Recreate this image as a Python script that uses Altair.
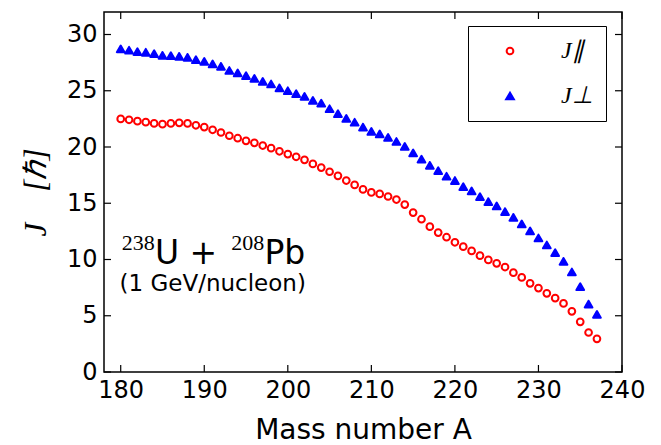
import altair as alt
import pandas as pd

# ---- data ----
mass_A = list(range(180, 238))
j_par = [22.5, 22.42, 22.3, 22.21, 22.1, 22.03, 22.1, 22.15, 22.1, 21.93,
         21.77, 21.53, 21.29, 21.0, 20.78, 20.55, 20.37, 20.13, 19.9, 19.62,
         19.37, 19.13, 18.86, 18.5, 18.17, 17.8, 17.44, 17.02, 16.63, 16.23,
         15.96, 15.83, 15.6, 15.33, 14.88, 14.17, 13.58, 12.92, 12.39, 11.98,
         11.53, 11.14, 10.76, 10.34, 9.96, 9.66, 9.33, 8.83, 8.41, 7.88,
         7.46, 6.99, 6.57, 6.1, 5.39, 4.46, 3.51, 2.95]
j_perp = [28.72, 28.6, 28.48, 28.42, 28.3, 28.15, 28.12, 28.06, 27.97, 27.76,
          27.61, 27.38, 27.17, 26.8, 26.58, 26.34, 26.1, 25.83, 25.6, 25.26,
          25.0, 24.74, 24.5, 24.14, 23.9, 23.4, 22.96, 22.54, 22.2, 21.77,
          21.38, 21.16, 20.85, 20.49, 20.05, 19.48, 18.92, 18.37, 17.9, 17.4,
          17.02, 16.48, 16.1, 15.59, 15.15, 14.76, 14.26, 13.75, 13.16, 12.54,
          11.91, 11.29, 10.61, 9.84, 8.89, 7.58, 6.04, 5.12]
series_names = ["J\u2225", "J\u22a5"]
x_ticks = [180, 190, 200, 210, 220, 230, 240]
y_ticks = [0, 5, 10, 15, 20, 25, 30]

# annotation text (positions in data units)
sup_text = ["238", "208"]
sup_x = [180.12, 193.24]
sup_y = [10.85, 10.85]
main_text = ["U +", "Pb"]
main_x = [184.1, 197.2]
main_y = [9.6, 9.6]
sub_text = ["(1 GeV/nucleon)"]
sub_x = [179.86]
sub_y = [7.22]

df = pd.DataFrame({
    "A": mass_A + mass_A,
    "J": j_par + j_perp,
    "series": [series_names[0]] * len(mass_A) + [series_names[1]] * len(mass_A),
})

W, H = 518, 360
xs = alt.Scale(domain=[178, 240], nice=False, zero=False)
ys = alt.Scale(domain=[0, 32], nice=False, zero=False)

NB = "\u00a0"
x_axis = alt.Axis(
    values=x_ticks, ticks=False, tickSize=0, domain=False, grid=False, labelFlush=False,
    labelPadding=6, labelFontSize=24, labelFont="DejaVu Sans", labelColor="black",
    format="d", title="Mass number A", titleFontSize=28, titleFont="DejaVu Sans",
    titleFontWeight="normal", titleColor="black", titlePadding=14)
y_axis = alt.Axis(
    values=y_ticks, ticks=False, tickSize=0, domain=False, grid=False, labelFlush=False,
    labelPadding=7, labelFontSize=24, labelFont="DejaVu Sans", labelColor="black",
    title="J" + NB * 4 + "[\u210f]", titleFont="Liberation Serif", titleFontStyle="italic",
    titleFontSize=31, titleFontWeight="normal", titleColor="black", titlePadding=14)

legend = alt.Legend(
    title=None, orient="none", legendX=364, legendY=14, padding=13,
    strokeColor="black", fillColor="white", cornerRadius=0,
    symbolStrokeWidth=2, symbolOffset=17, labelOffset=39,
    labelFont="Liberation Serif", labelFontStyle="italic", labelFontSize=24,
    labelColor="black", rowPadding=21,
    labelExpr="datum.label + '\u00a0\u00a0\u00a0\u00a0'",
)

points = alt.Chart(df).mark_point(strokeWidth=2, opacity=1, strokeJoin="round").encode(
    x=alt.X("A:Q", scale=xs, axis=x_axis),
    y=alt.Y("J:Q", scale=ys, axis=y_axis),
    shape=alt.Shape("series:N", scale=alt.Scale(domain=series_names, range=["circle", "triangle-up"]), legend=legend),
    stroke=alt.Stroke("series:N", scale=alt.Scale(domain=series_names, range=["#ff0000", "#0000ff"]), legend=legend),
    fill=alt.Fill("series:N", scale=alt.Scale(domain=series_names, range=["white", "#0000ff"]), legend=legend),
    size=alt.Size("series:N", scale=alt.Scale(domain=series_names, range=[45, 60]), legend=legend),
)

ty = pd.DataFrame({"A": [178] * len(y_ticks), "J": y_ticks})
tx = pd.DataFrame({"A": x_ticks, "J": [0] * len(x_ticks)})
TL = 7
left_ticks = alt.Chart(ty).mark_rule(color="black", strokeWidth=1.2).encode(
    y=alt.Y("J:Q", scale=ys, axis=y_axis), x=alt.value(0), x2=alt.value(TL))
right_ticks = alt.Chart(ty).mark_rule(color="black", strokeWidth=1.2).encode(
    y=alt.Y("J:Q", scale=ys, axis=y_axis), x=alt.value(W - TL), x2=alt.value(W))
bottom_ticks = alt.Chart(tx).mark_rule(color="black", strokeWidth=1.2).encode(
    x=alt.X("A:Q", scale=xs, axis=x_axis), y=alt.value(H - TL), y2=alt.value(H))
top_ticks = alt.Chart(tx).mark_rule(color="black", strokeWidth=1.2).encode(
    x=alt.X("A:Q", scale=xs, axis=x_axis), y=alt.value(0), y2=alt.value(TL))

sup_df = pd.DataFrame({"A": sup_x, "J": sup_y, "t": sup_text})
main_df = pd.DataFrame({"A": main_x, "J": main_y, "t": main_text})
sub_df = pd.DataFrame({"A": sub_x, "J": sub_y, "t": sub_text})

def text_layer(d, font, size):
    return alt.Chart(d).mark_text(align="left", baseline="alphabetic", font=font,
                                  fontSize=size, color="black").encode(
        x=alt.X("A:Q", scale=xs, axis=x_axis), y=alt.Y("J:Q", scale=ys, axis=y_axis), text="t:N")

sup_layer = text_layer(sup_df, "Liberation Serif", 22)
main_layer = text_layer(main_df, "DejaVu Sans", 33)
sub_layer = text_layer(sub_df, "DejaVu Sans", 23)

chart = alt.layer(
    points, left_ticks, right_ticks, bottom_ticks, top_ticks,
    sup_layer, main_layer, sub_layer,
).properties(
    width=W, height=H,
    padding={"left": 96, "top": 4, "right": 30, "bottom": 73},
    autosize=alt.AutoSizeParams(type="none"),
).configure(
    background="white",
    view=alt.ViewConfig(stroke="black", strokeWidth=1.5),
)

chart.save("out.html", embed_options={"renderer": "svg", "actions": False})
